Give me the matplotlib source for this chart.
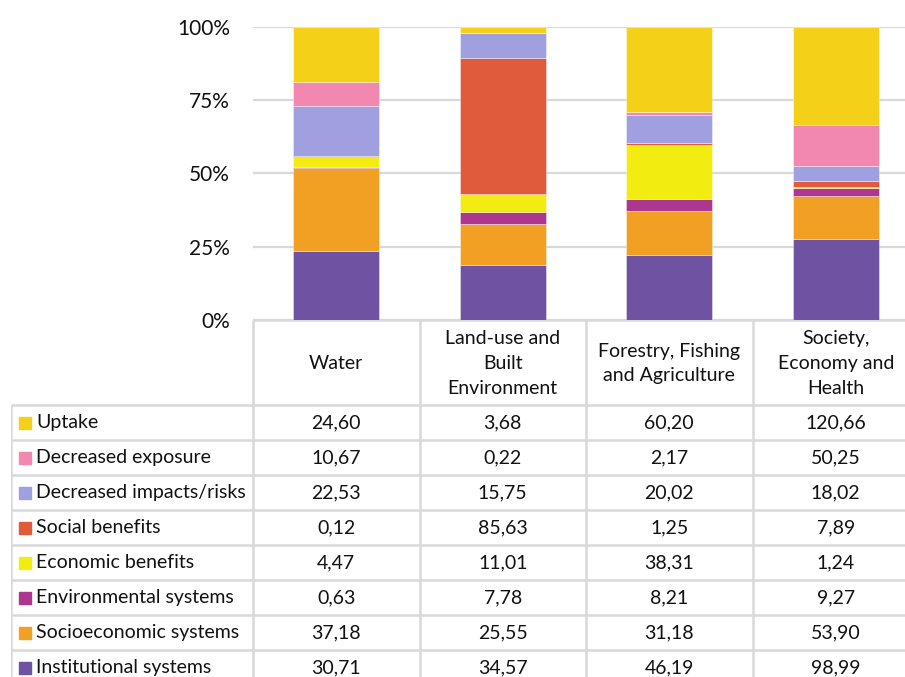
import matplotlib
matplotlib.use("Agg")
import matplotlib.pyplot as plt
from matplotlib.patches import Rectangle
import numpy as np

plt.rcParams['font.family'] = ['Lato', 'DejaVu Sans']

# Sectors (columns) and impact categories (rows, top to bottom as listed in the table)
sectors = ["Water", "Land-use and\nBuilt\nEnvironment",
           "Forestry, Fishing\nand Agriculture", "Society,\nEconomy and\nHealth"]
categories = ["Uptake", "Decreased exposure", "Decreased impacts/risks",
              "Social benefits", "Economic benefits", "Environmental systems",
              "Socioeconomic systems", "Institutional systems"]

uptake = [24.60, 3.68, 60.20, 120.66]
decreased_exposure = [10.67, 0.22, 2.17, 50.25]
decreased_impacts = [22.53, 15.75, 20.02, 18.02]
social_benefits = [0.12, 85.63, 1.25, 7.89]
economic_benefits = [4.47, 11.01, 38.31, 1.24]
environmental_systems = [0.63, 7.78, 8.21, 9.27]
socioeconomic_systems = [37.18, 25.55, 31.18, 53.90]
institutional_systems = [30.71, 34.57, 46.19, 98.99]

colors = ["#f4d118", "#f287b0", "#a0a0e0", "#e05b3c",
          "#f2ec10", "#ad368f", "#f2a024", "#7052a2"]

series = [uptake, decreased_exposure, decreased_impacts, social_benefits,
          economic_benefits, environmental_systems, socioeconomic_systems,
          institutional_systems]

W, H = 905, 677
fig = plt.figure(figsize=(W / 100, H / 100), dpi=100)

def fig_rect(x0, y0, x1, y1):
    return [x0 / W, 1 - y1 / H, (x1 - x0) / W, (y1 - y0) / H]

col_w = 166.5
x_left = 253
ax_right = x_left + 4 * col_w
txt_color = "#111111"

# --- stacked 100% bars ---
ax = fig.add_axes(fig_rect(x_left, 27, ax_right, 320))
data = np.array(series, dtype=float)
totals = data.sum(axis=0)
pct = data / totals * 100
x = np.arange(len(sectors))
bottom = np.zeros(len(sectors))
for i in range(len(categories) - 1, -1, -1):
    ax.bar(x, pct[i], bottom=bottom, width=0.515, color=colors[i],
           edgecolor=(1, 1, 1, 0.45), linewidth=0.6, zorder=3)
    bottom += pct[i]
ax.set_xlim(-0.5, len(sectors) - 0.5)
ax.set_ylim(0, 100)
ax.set_yticks([0, 25, 50, 75, 100])
ax.set_yticklabels(["0%", "25%", "50%", "75%", "100%"], fontsize=15, color=txt_color)
ax.tick_params(axis='y', length=0, pad=16.5)
ax.set_xticks([])
ax.grid(axis='y', color="#d9d9d9", linewidth=1.6, zorder=0)
for s in ax.spines.values():
    s.set_visible(False)

# --- data table ---
tx0, tx1 = 11, ax_right
ty0, ty1 = 320, 685
tab = fig.add_axes(fig_rect(tx0, ty0, tx1, ty1))
tab.set_xlim(tx0, tx1)
tab.set_ylim(ty1, ty0)
tab.axis('off')

line_kw = dict(color="#d9d9d9", linewidth=1.8, solid_capstyle='butt')
header_bottom = 405
row_h = 35
col_edges = [x_left + k * col_w for k in range(len(sectors) + 1)]
row_edges = [header_bottom + k * row_h for k in range(len(categories) + 1)]

# header box
tab.plot([x_left, tx1], [ty0, ty0], **line_kw)
for cx in col_edges:
    tab.plot([cx, cx], [ty0, row_edges[-1]], **line_kw)
# body rows
for ry in row_edges:
    tab.plot([tx0, tx1], [ry, ry], **line_kw)
tab.plot([tx0, tx0], [header_bottom, row_edges[-1]], **line_kw)

fs = 14
text_kw = dict(fontsize=fs, color=txt_color, ha='center', va='center')
for j, name in enumerate(sectors):
    tab.text(x_left + (j + 0.5) * col_w, (ty0 + header_bottom) / 2 + 1, name,
             linespacing=1.55, **text_kw)

for i, name in enumerate(categories):
    yc = row_edges[i] + row_h / 2
    tab.add_patch(Rectangle((19, yc - 6), 12, 12, color=colors[i]))
    tab.text(36, yc, name, fontsize=fs, color=txt_color, ha='left', va='center')
    for j in range(len(sectors)):
        val = f"{series[i][j]:.2f}".replace(".", ",")
        tab.text(x_left + (j + 0.5) * col_w, yc, val, **text_kw)

fig.savefig("out.png", dpi=100)
